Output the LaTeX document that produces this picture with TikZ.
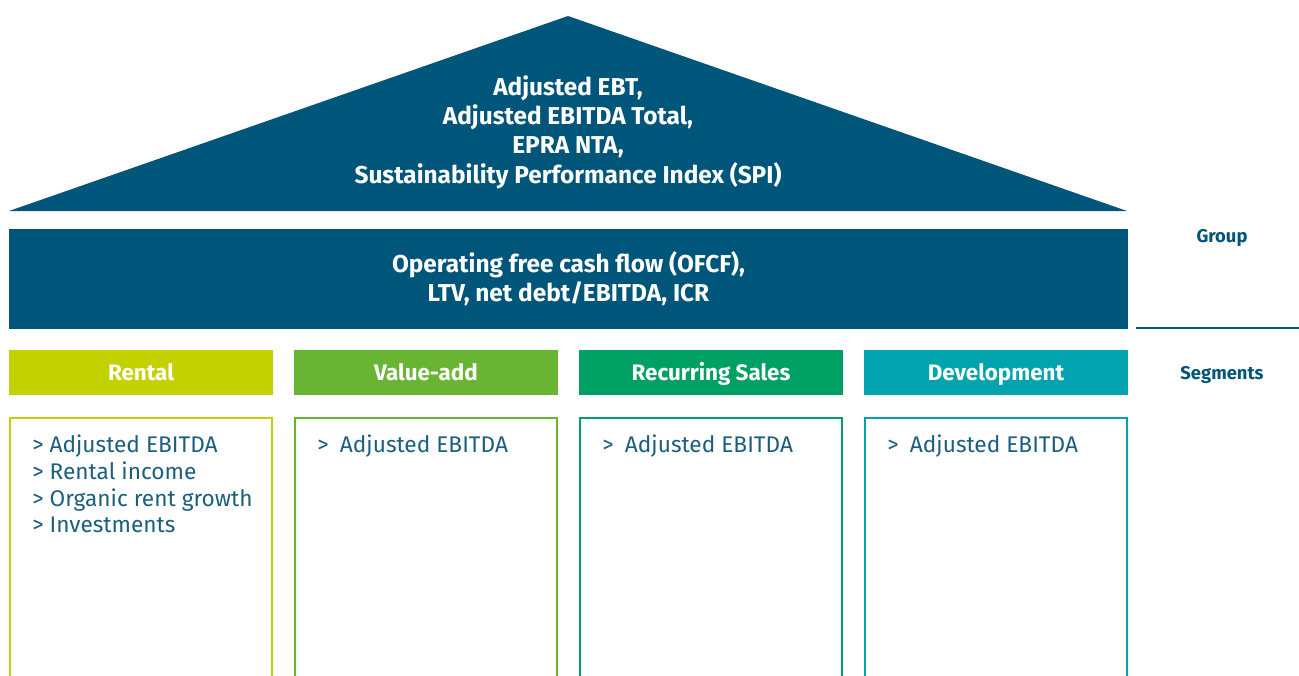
\documentclass[tikz,border=0pt]{standalone}
\usepackage{fontspec}
\setmainfont{Fira Sans}
\usetikzlibrary{positioning}
\definecolor{navy}{HTML}{00567A}
\definecolor{listblue}{HTML}{1B5E7E}
\definecolor{rentalcol}{HTML}{C3D100}
\definecolor{valuecol}{HTML}{6AB434}
\definecolor{salescol}{HTML}{00A064}
\definecolor{devcol}{HTML}{00A3AE}
\begin{document}
\begin{tikzpicture}[x=0.75pt, y=-0.75pt,
    seghead/.style={rectangle, minimum width=198pt, minimum height=33.75pt, inner sep=0pt, text height=11.6pt, text depth=0pt, text=white, font=\bfseries\fontsize{16.8}{20}\selectfont},
    segbox/.style={rectangle, draw, line width=1.5pt, minimum width=196.5pt, minimum height=240pt, anchor=north, inner sep=0pt},
    seglist/.style={anchor=north west, align=left, inner sep=0pt, text=listblue, font=\fontsize{17}{20}\selectfont},
    sidelabel/.style={text=navy, font=\bfseries\fontsize{13.8}{16}\selectfont}]
    \useasboundingbox (0,0) rectangle (1299,675);
    % Group level: roof and bar
    \fill[navy] (9,211) -- (568,16) -- (1127,211) -- cycle;
    \node[align=center, text=white, font=\bfseries\fontsize{18.3}{22}\selectfont] (kpis) at (568,132)
        {Adjusted EBT,\\Adjusted EBITDA Total,\\EPRA NTA,\\Sustainability Performance Index (SPI)};
    \node[rectangle, fill=navy, minimum width=839.25pt, minimum height=75pt, inner sep=0pt, align=center,
        text=white, font=\bfseries\fontsize{18.3}{21.75}\selectfont] (ofcf) at (568.5,279)
        {Operating free cash flow (OFCF),\\LTV, net debt/EBITDA, ICR};
    
    \node[sidelabel] (group) at (1222,238) {Group};
    \coordinate (gleft) at (1136,328);
    \coordinate (gright) at (1299,328);
    \draw[navy, line width=1.5pt] (gleft) -- (gright);
    \node[sidelabel] (segments) at (1222,375) {Segments};
    
    % Segments
    \node[seghead, fill=rentalcol] (rental) at (141,372.5) {Rental};
    \node[seghead, fill=valuecol] (valueadd) at (426,372.5) {Value-add};
    \node[seghead, fill=salescol] (sales) at (711,372.5) {Recurring Sales};
    \node[seghead, fill=devcol] (develop) at (996,372.5) {Development};
    
    \node[segbox, draw=rentalcol] (rentalbox) at (141,417) {};
    \node[segbox, draw=valuecol] (valueaddbox) at (426,417) {};
    \node[segbox, draw=salescol] (salesbox) at (711,417) {};
    \node[segbox, draw=devcol] (developbox) at (996,417) {};
    
    \node[seglist] (rentallist) at (32,435)
        {> Adjusted EBITDA\\> Rental income\\> Organic rent growth\\> Investments};
    \node[seglist] (valueaddlist) at (317,435) {>\enspace Adjusted EBITDA};
    \node[seglist] (saleslist) at (602,435) {>\enspace Adjusted EBITDA};
    \node[seglist] (developlist) at (887,435) {>\enspace Adjusted EBITDA};
\end{tikzpicture}
\end{document}
